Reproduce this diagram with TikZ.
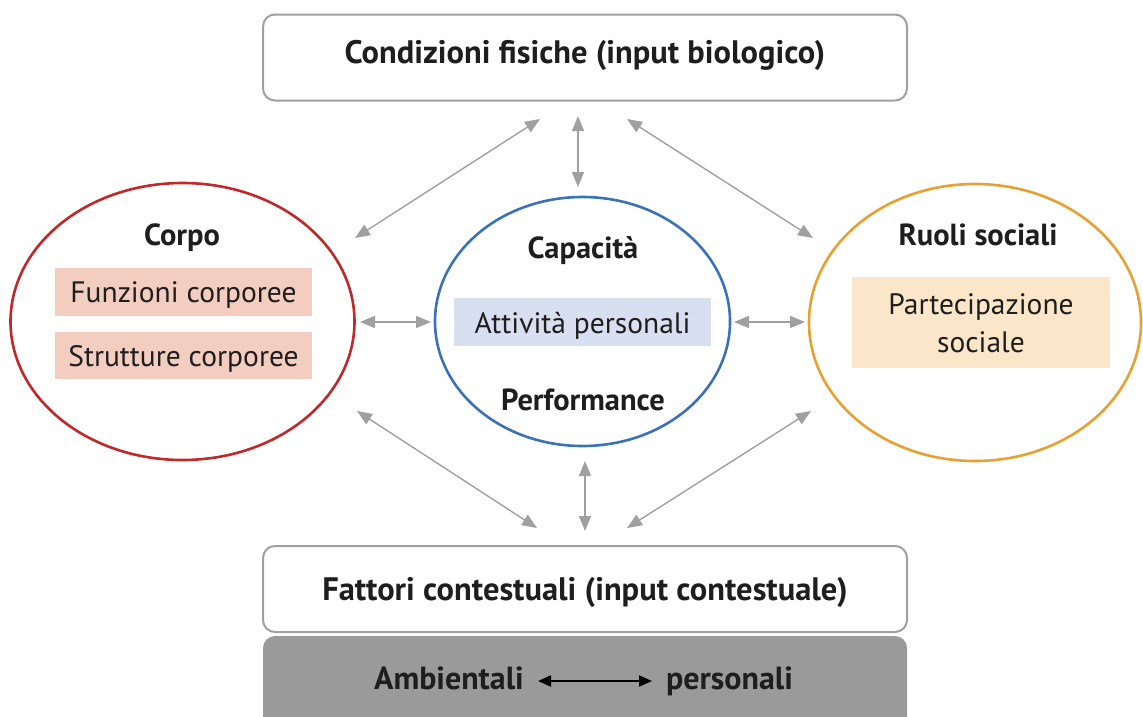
\documentclass[tikz,border=0pt]{standalone}
\usepackage{fontspec}
\setmainfont{PT Sans}
\usetikzlibrary{arrows.meta}
\definecolor{boxgray}{HTML}{9A9A9A}
\definecolor{linegray}{HTML}{A0A0A0}
\definecolor{corpored}{HTML}{C0282A}
\definecolor{capblue}{HTML}{3A72B8}
\definecolor{ruoliorange}{HTML}{E9A032}
\definecolor{pinkfill}{HTML}{F3CDBF}
\definecolor{bluefill}{HTML}{D8DFF0}
\definecolor{peachfill}{HTML}{FCE6CA}
\definecolor{txt}{HTML}{1E1E1E}
\begin{document}
\begin{tikzpicture}[x=1pt,y=-1pt,
  inputbox/.style={draw=linegray,line width=2pt,rounded corners=12pt,fill=white,minimum width=644pt,minimum height=86pt,inner sep=0pt},
  titletxt/.style={font=\fontsize{32.5}{36}\selectfont\bfseries,text=txt,inner sep=0pt,anchor=base},
  headtxt/.style={font=\fontsize{30.5}{34}\selectfont\bfseries,text=txt,inner sep=0pt,anchor=base},
  bodytxt/.style={font=\fontsize{29.5}{38}\selectfont,text=txt,inner sep=0pt,align=center,anchor=base},
  biarrow/.style={draw=linegray,line width=1.4pt,{Triangle[length=15pt,width=12pt]}-{Triangle[length=15pt,width=12pt]}},
  ell/.style={line width=2.6pt}
]
\useasboundingbox (0,0) rectangle (1143,716);
\fill[white] (0,0) rectangle (1143,716);

% top and bottom boxes
\node[inputbox] (cond) at (585,57.5) {};
\node[titletxt] (condT) at (585,63) {Condizioni fisiche (input biologico)};
\fill[boxgray,rounded corners=12pt] (263,636) rectangle (907,740);
\node[inputbox] (fatt) at (585,589) {};
\node[titletxt] (fattT) at (585,600) {Fattori contestuali (input contestuale)};
\node[titletxt,font=\fontsize{32}{36}\selectfont\bfseries,anchor=base east] (amb) at (524,689) {Ambientali};
\node[titletxt,font=\fontsize{32}{36}\selectfont\bfseries,anchor=base west] (pers) at (666,689) {personali};
\coordinate (ambR) at (538,681);
\coordinate (persL) at (652,681);
\draw[line width=2pt,{Triangle[length=13pt,width=11pt]}-{Triangle[length=13pt,width=11pt]}] (ambR) -- (persL);

% ellipses
\draw[ell,corpored] (182.5,321.5) ellipse [x radius=172, y radius=138.5];
\node (corpoE) at (182.5,321.5) {};
\draw[ell,capblue] (582.5,321.5) ellipse [x radius=147.5, y radius=124.5];
\node (capE) at (582.5,321.5) {};
\draw[ell,ruoliorange] (975,322.5) ellipse [x radius=166, y radius=138.5];
\node (ruoliE) at (975,322.5) {};

% Corpo
\node[headtxt] (corpo) at (182,245) {Corpo};
\fill[pinkfill] (55,268) rectangle (312,316);
\node[bodytxt] (funz) at (183.5,302) {Funzioni corporee};
\fill[pinkfill] (55,332) rectangle (312,379);
\node[bodytxt] (strut) at (183.5,366) {Strutture corporee};

% Capacita
\node[headtxt] (capac) at (583,258) {Capacità};
\fill[bluefill] (454,298) rectangle (711,346);
\node[bodytxt] (att) at (582.5,333) {Attività personali};
\node[headtxt] (perf) at (583,410) {Performance};

% Ruoli
\node[headtxt] (ruoli) at (978,245) {Ruoli sociali};
\fill[peachfill] (852,277) rectangle (1110,368);
\node[bodytxt,anchor=center] (part) at (981,323.5) {Partecipazione\\sociale};

% arrow endpoints
\coordinate (tl1) at (355,238); \coordinate (tl2) at (540,119);
\coordinate (tc1) at (578,116); \coordinate (tc2) at (578,187);
\coordinate (tr1) at (627,119); \coordinate (tr2) at (813,238);
\coordinate (ml1) at (360,322); \coordinate (ml2) at (431,322);
\coordinate (mr1) at (734,322); \coordinate (mr2) at (805,322);
\coordinate (bl1) at (357,411); \coordinate (bl2) at (537,528);
\coordinate (bc1) at (585,461); \coordinate (bc2) at (585,531);
\coordinate (br1) at (627,528); \coordinate (br2) at (811,411);

\draw[biarrow] (tl1) -- (tl2);
\draw[biarrow] (tc1) -- (tc2);
\draw[biarrow] (tr1) -- (tr2);
\draw[biarrow] (ml1) -- (ml2);
\draw[biarrow] (mr1) -- (mr2);
\draw[biarrow] (bl1) -- (bl2);
\draw[biarrow] (bc1) -- (bc2);
\draw[biarrow] (br1) -- (br2);
\end{tikzpicture}
\end{document}
